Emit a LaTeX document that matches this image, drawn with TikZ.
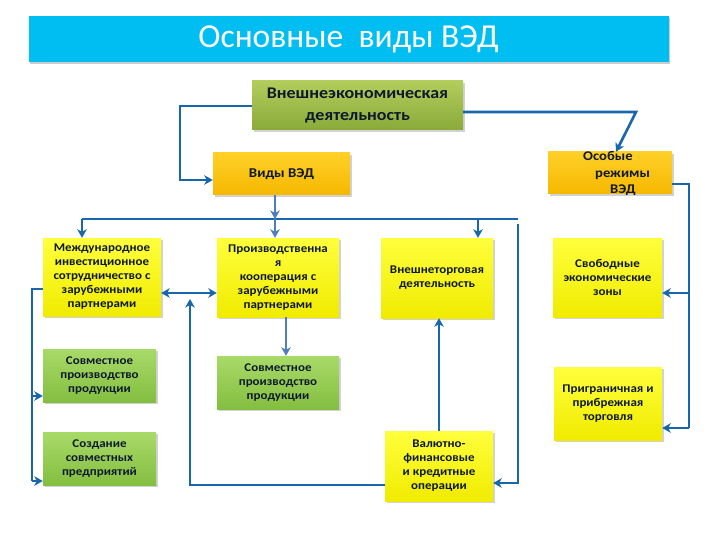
\documentclass[tikz,border=0pt]{standalone}
\usepackage{fontspec}
\setmainfont{Carlito}
\newfontfamily\boxfont{Carlito}[FakeStretch=1.1]
\usetikzlibrary{arrows.meta,shadows,calc}
\definecolor{lineblue}{RGB}{24,102,172}
\definecolor{lightblue}{RGB}{79,125,190}
\definecolor{titlecyan}{RGB}{0,190,242}
\definecolor{txt}{RGB}{15,25,45}
\begin{document}
\begin{tikzpicture}[x=1pt,y=-1pt]
\tikzset{
  bx/.style={inner sep=0pt, align=center, text=txt,
    drop shadow={shadow xshift=2pt, shadow yshift=-2pt, opacity=0.35, fill=gray},
    font=\boxfont\bfseries\fontsize{11.8}{14}\selectfont},
  ybox/.style={bx, top color={rgb,255:red,255;green,255;blue,60}, bottom color={rgb,255:red,240;green,235;blue,0}},
  gbox/.style={bx, top color={rgb,255:red,168;green,218;blue,104}, bottom color={rgb,255:red,132;green,190;blue,64}},
  obox/.style={bx, top color={rgb,255:red,255;green,208;blue,40}, bottom color={rgb,255:red,245;green,184;blue,0}},
  conn/.style={draw=lineblue, line width=2.6pt, line join=miter},
  lconn/.style={draw=lightblue, line width=2.6pt},
  tip/.style={-{Stealth[length=8.5pt,width=9.5pt,inset=2.5pt]}},
  dtip/.style={{Stealth[length=8.5pt,width=9.5pt,inset=2.5pt]}-{Stealth[length=8.5pt,width=9.5pt,inset=2.5pt]}}
}
\useasboundingbox (0,0) rectangle (720,540);
\fill[white] (0,0) rectangle (720,540);

% title
\node[inner sep=0pt, minimum width=640, minimum height=46, fill=titlecyan,
  drop shadow={shadow xshift=1.5pt, shadow yshift=-2pt, opacity=0.4, fill=gray},
  text=white, font=\fontsize{33.5}{38}\selectfont] (title) at (348.5,39.5) {Основные\ \ виды ВЭД};

% boxes
\node[bx, top color={rgb,255:red,178;green,205;blue,92}, bottom color={rgb,255:red,138;green,170;blue,58},
  minimum width=211, minimum height=49, font=\boxfont\bfseries\fontsize{16.3}{22}\selectfont] (top) at (357.5,105.5)
  {Внешнеэкономическая\\деятельность};
\node[obox, minimum width=137, minimum height=42, font=\boxfont\bfseries\fontsize{13.5}{15}\selectfont] (vid) at (281.5,174) {Виды ВЭД};
\node[obox, minimum width=124, minimum height=42] (osob) at (610,173) {};
\node[anchor=west, align=left, text=txt, inner sep=0pt, font=\boxfont\bfseries\fontsize{13.3}{16.5}\selectfont] (osobt) at (583,173.5)
  {Особые\\\hspace*{12pt}режимы\\\hspace*{27pt}ВЭД};

\node[ybox, minimum width=118, minimum height=78] (mezh) at (102,277)
  {Международное\\инвестиционное\\сотрудничество с\\зарубежными\\партнерами};
\node[ybox, minimum width=122, minimum height=79] (proizv) at (278,277.5)
  {Производственна\\я\\кооперация с\\зарубежными\\партнерами};
\node[ybox, minimum width=112, minimum height=80] (vnesh) at (437,278)
  {Внешнеторговая\\деятельность};
\node[ybox, minimum width=109, minimum height=79] (svob) at (607.5,277.5)
  {Свободные\\экономические\\зоны};

\node[gbox, minimum width=113, minimum height=53] (sovm1) at (99.5,375.5)
  {Совместное\\производство\\продукции};
\node[gbox, minimum width=122, minimum height=53] (sovm2) at (278,382.5)
  {Совместное\\производство\\продукции};
\node[gbox, minimum width=113, minimum height=53] (sozd) at (99.5,458.5)
  {Создание\\совместных\\предприятий};
\node[ybox, minimum width=108, minimum height=73] (pogr) at (608,403.5)
  {Приграничная и\\прибрежная\\торговля};
\node[ybox, minimum width=108, minimum height=70] (val) at (439,466)
  {Валютно-\\финансовые\\и кредитные\\операции};

% connectors
\coordinate (tl) at (180,106);
\draw[conn, tip] (top.west |- tl) -- (tl) |- (vid.west |- 0,180);
\coordinate (tr) at (636,112);
\draw[conn, tip] (top.east |- tr) -- (tr) -- (osob.north -| 616,0);

\coordinate (busL) at (82,219);
\coordinate (busM) at (275,219);
\coordinate (busV) at (478,219);
\coordinate (busR) at (518,219);
\draw[conn] (busL) -- (busR);
\draw[lconn, tip] (vid.south -| busM) -- (busM);
\draw[lconn, tip] (busM) -- (proizv.north -| busM);
\draw[conn, tip] (busL) -- (mezh.north -| busL);
\draw[conn, tip] (busV) -- (vnesh.north -| busV);
\coordinate (vr) at (518,483);
\draw[conn, tip] (518,224) -- (vr) -- (val.east |- vr);

\draw[conn, dtip] (mezh.east |- 0,293) -- (proizv.west |- 0,293);
\coordinate (bl) at (190,485);
\draw[conn, tip] (val.west |- bl) -- (bl) -- (190,299);

\coordinate (ml) at (32,289);
\coordinate (mb) at (32,481);
\draw[conn] (mezh.west |- ml) -- (ml) -- (mb);
\draw[conn, tip] (32,396) -- (sovm1.west |- 0,396);
\draw[conn, tip] (mb) -- (sozd.west |- mb);

\draw[lconn, tip] (proizv.south -| 286,0) -- (sovm2.north -| 286,0);
\draw[conn, tip] (val.north -| 439,0) -- (vnesh.south -| 439,0);

\coordinate (or) at (689,184);
\coordinate (ob) at (689,428);
\draw[conn] (osob.east |- or) -- (or) -- (ob);
\draw[conn, tip] (ob) -- (pogr.east |- ob);
\draw[conn, tip] (689,293) -- (svob.east |- 0,293);
\end{tikzpicture}
\end{document}
